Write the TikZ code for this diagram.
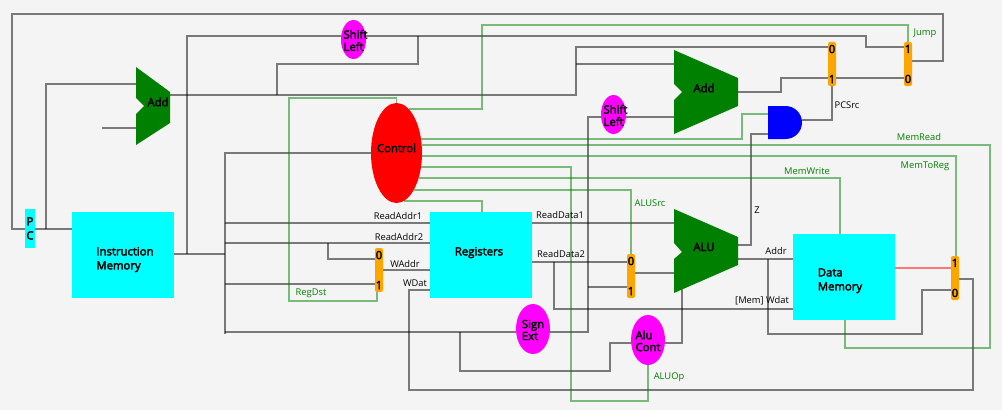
\documentclass[tikz,border=0pt]{standalone}
\usepackage{fontspec}
\setmainfont{Open Sans}
\newfontfamily\blockfamily[FakeBold=3]{Open Sans}
\usetikzlibrary{backgrounds,shapes.geometric}
\definecolor{pagegray}{HTML}{F4F4F4}
\definecolor{darkgreen}{HTML}{008000}
\definecolor{boxcyan}{HTML}{00FFFF}
\definecolor{opmagenta}{HTML}{FF00FF}
\definecolor{muxorange}{HTML}{FFA500}
\definecolor{ctrlred}{HTML}{FF0000}
\definecolor{gateblue}{HTML}{0000FF}
\tikzset{
  blockfont/.style={font=\blockfamily\fontsize{8.5}{9}\selectfont},
  boxnode/.style={rectangle,fill=boxcyan,inner sep=0pt,outer sep=0pt,minimum width=76.5pt,minimum height=64.5pt,blockfont},
  muxnode/.style={rectangle,rounded corners=1.5pt,fill=muxorange,inner sep=0pt,outer sep=0pt,minimum width=6pt,minimum height=33pt,align=center,font=\blockfamily\fontsize{8.5}{22.5}\selectfont},
  opnode/.style={ellipse,fill=opmagenta,inner sep=0pt,outer sep=0pt,blockfont},
  alufill/.style={fill=darkgreen},
  alubox/.style={rectangle,inner sep=0pt,outer sep=0pt},
  wire/.style={draw=black,opacity=0.5,line width=1.2pt},
  ctrlwire/.style={draw=darkgreen,opacity=0.5,line width=1.2pt},
  datalabel/.style={inner sep=0pt,font=\fontsize{7}{8}\selectfont},
  ctrllabel/.style={inner sep=0pt,text=darkgreen,font=\fontsize{7}{8}\selectfont}
}
\newcommand{\lifted}[2][6pt]{\begin{tabular}{@{}l@{}}#2\\[#1]\end{tabular}}
\newcommand{\wide}[2][0pt]{\makebox[0pt]{\begin{tabular}{@{}l@{}}#2\\[#1]\end{tabular}}}
\begin{document}
\begin{tikzpicture}[x=0.75pt,y=-0.75pt]
\useasboundingbox (0,0) rectangle (1002,410);
% blocks
\node[boxnode,minimum width=7.5pt,minimum height=29.25pt,align=center,font=\blockfamily\fontsize{8.5}{10.5}\selectfont] (pc) at (30,228.5) {P\\C};
\node[boxnode] (im) at (123,255) {\lifted[-7.5pt]{\hspace*{3pt}Instruction\\[1.5pt]\hspace*{3pt}Memory}};
\node[boxnode] (regs) at (481,255) {\lifted[3pt]{Registers\hspace*{3pt}}};
\node[boxnode] (dm) at (844,277) {\lifted[-6pt]{Data\\[1.5pt]Memory\hspace*{6pt}}};
\node[ellipse,fill=ctrlred,inner sep=0pt,outer sep=0pt,minimum width=38.25pt,minimum height=75pt,blockfont] (control) at (396.5,153) {\wide[5pt]{Control}};
\node[opnode,minimum width=18.75pt,minimum height=29.25pt] (shiftone) at (353.5,39.5) {\wide[-4pt]{\hspace*{3pt}Shift\\\hspace*{3pt}Left}};
\node[opnode,minimum width=18.75pt,minimum height=29.25pt] (shifttwo) at (613.5,114.5) {\wide[-4pt]{\hspace*{3pt}Shift\\\hspace*{3pt}Left}};
\node[opnode,minimum width=25.5pt,minimum height=37.5pt] (sign) at (533,329) {\wide[-4pt]{Sign\\Ext}};
\node[opnode,minimum width=25.5pt,minimum height=37.5pt] (alucont) at (648,340) {\wide[-4pt]{Alu\\Cont}};
% adders and alu
\fill[alufill] (136,67) -- (170,92) -- (170,123) -- (136,145) -- (136,114) -- (144,106) -- (136,98) -- cycle;
\fill[alufill] (674,50) -- (738,78) -- (738,106) -- (674,134) -- (674,100) -- (682,92) -- (674,84) -- cycle;
\fill[alufill] (674,209) -- (738,237) -- (738,265) -- (674,293) -- (674,259) -- (682,252) -- (674,243) -- cycle;
\node[alubox,minimum width=25.5pt,minimum height=58.5pt] (addone) at (153,106) {};
\node[alubox,minimum width=48pt,minimum height=63pt] (addtwo) at (706,92) {};
\node[alubox,minimum width=48pt,minimum height=63pt] (alu) at (706,251) {};
\node[blockfont,inner sep=0pt] (addonetext) at (158,102) {Add};
\node[blockfont,inner sep=0pt] (addtwotext) at (704,88) {Add};
\node[blockfont,inner sep=0pt] (alutext) at (704,247) {ALU};
% and gate
\fill[gateblue] (768,106) -- (785.5,106) arc[start angle=90,end angle=-90,radius=12.375pt] -- (768,139) -- cycle;
\node[alubox,minimum width=25.5pt,minimum height=24.75pt] (andgate) at (785,122.5) {};
% muxes
\node[muxnode] (muxpc) at (832,64) {0\\1};
\node[muxnode] (muxjump) at (908,64) {1\\0};
\node[muxnode] (muxreg) at (379,270) {0\\1};
\node[muxnode] (muxalu) at (631,276) {0\\1};
\node[muxnode] (muxmem) at (955,278) {1\\0};
% joints
\coordinate (addstub) at (102,128);
\coordinate (alubottom) at (682,288);
\begin{scope}[on background layer]
\fill[pagegray] (0,0) rectangle (1002,410);
% data wires
\draw[wire] (muxjump.east |- 0,61) -| (943,14) -| (12,229) -- (pc.west |- 0,229);
\draw[wire] (pc.east |- 0,229) -- (im.west |- 0,229);
\draw[wire] (46,229) |- (addone.west |- 0,84);
\draw[wire] (addstub) -- (addone.west |- 0,128);
\draw[wire] (addone.east |- 0,95) -| (576,47) -- (muxpc.west |- 0,47);
\draw[wire] (576,64) -- (addtwo.west |- 0,64);
\draw[wire] (277,95) |- (418,64) -- (418,36);
\draw[wire] (im.east |- 0,254) -- (225,254);
\draw[wire] (187,254) |- (shiftone.west |- 0,36);
\draw[wire] (shiftone.east |- 0,36) -| (866,47) -- (muxjump.west |- 0,47);
\draw[wire] (control.west) -| (225,334);
\draw[wire] (225,223) -- (regs.west |- 0,223);
\draw[wire] (225,243) -- (regs.west |- 0,243);
\draw[wire] (328,243) |- (muxreg.west |- 0,259);
\draw[wire] (225,284) -- (muxreg.west |- 0,284);
\draw[wire] (225,332) -- (sign.west |- 0,332);
\draw[wire] (460,332) |- (610,371) |- (alucont.west |- 0,343);
\draw[wire] (muxreg.east |- 0,270) -- (regs.west |- 0,270);
\draw[wire] (regs.west |- 0,290) -| (409,390) -| (973,279) -- (muxmem.east |- 0,279);
\draw[wire] (regs.east |- 0,223) -- (alu.west |- 0,223);
\draw[wire] (regs.east |- 0,262) -- (muxalu.west |- 0,262);
\draw[wire] (554,262) |- (dm.west |- 0,309);
\draw[wire] (sign.east |- 0,332) -| (588,117) -- (shifttwo.west |- 0,117);
\draw[wire] (shifttwo.east |- 0,117) -- (addtwo.west |- 0,117);
\draw[wire] (588,287) -- (muxalu.west |- 0,287);
\draw[wire] (muxalu.east |- 0,273) -- (alu.west |- 0,273);
\draw[wire] (alucont.east |- 0,343) -| (alubottom);
\draw[wire] (alu.east |- 0,245) -| (751,134) -- (andgate.west |- 0,134);
\draw[wire] (alu.east |- 0,259) -- (dm.west |- 0,259);
\draw[wire] (768,259) |- (922,334) |- (muxmem.west |- 0,290);
\draw[wire,draw=red] (dm.east |- 0,268) -- (muxmem.west |- 0,268);
\draw[wire] (andgate.east |- 0,120) -| (muxpc.south);
\draw[wire] (addtwo.east |- 0,92) -| (781,78) -- (muxpc.west |- 0,78);
\draw[wire] (muxpc.east |- 0,78) -- (muxjump.west |- 0,78);
% control wires
\draw[ctrlwire] (control.north) |- (289,98) |- (377,301) -- (muxreg.south -| 377,0);
\draw[ctrlwire] (control.74.6 |- 0,109) -| (482,25) -| (muxjump.north);
\draw[ctrlwire] (control.29.7 |- 0,139) -| (742,114) -- (andgate.west |- 0,114);
\draw[ctrlwire] (control.17.6 |- 0,145) -| (990,348) -| (dm.south -| 845,0);
\draw[ctrlwire] (control.-6.7 |- 0,156) -| (muxmem.north -| 956,0);
\draw[ctrlwire] (control.-29.7 |- 0,167) -| (571,401) -| (alucont.south);
\draw[ctrlwire] (control.-48.5 |- 0,178) -| (dm.north -| 840,0);
\draw[ctrlwire] (control.-65.1 |- 0,190) -| (muxalu.north);
\draw[ctrlwire] (control.-81.6 |- 0,201) -| (regs.north -| 482,0);
\end{scope}
% labels
\node[datalabel] (lraddr1) at (398,216) {ReadAddr1};
\node[datalabel] (lraddr2) at (399,237) {ReadAddr2};
\node[datalabel] (lwaddr) at (405,264) {WAddr};
\node[datalabel] (lwdat) at (415,283) {WDat};
\node[datalabel] (lrdata1) at (560,215) {ReadData1};
\node[datalabel] (lrdata2) at (561,254) {ReadData2};
\node[datalabel] (lzero) at (757,210) {Z};
\node[datalabel] (laddr) at (776,251) {Addr};
\node[datalabel] (lmemw) at (762,301) {[Mem] Wdat};
\node[datalabel] (lpcsrc) at (847,105) {PCSrc};
\node[ctrllabel] (ljump) at (925,33) {Jump};
\node[ctrllabel] (lmemread) at (919,137) {MemRead};
\node[ctrllabel] (lmemreg) at (925,166) {MemToReg};
\node[ctrllabel] (lmemwrite) at (807,171) {MemWrite};
\node[ctrllabel] (lalusrc) at (650,203) {ALUSrc};
\node[ctrllabel] (laluop) at (669,377) {ALUOp};
\node[ctrllabel] (lregdst) at (311,293) {RegDst};
\end{tikzpicture}
\end{document}
